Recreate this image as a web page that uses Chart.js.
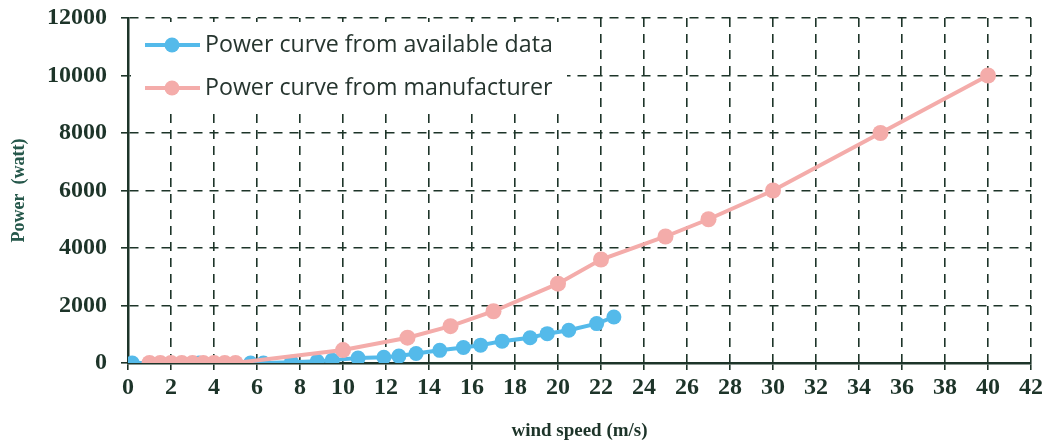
<!DOCTYPE html>
<html>
<head>
<meta charset="utf-8">
<script src="https://cdn.jsdelivr.net/npm/chart.js@4"></script>
<style>
  html, body { margin: 0; padding: 0; background: #fff; }
  #wrap { width: 1053px; height: 444px; position: relative; }
</style>
</head>
<body>
<div id="wrap"><canvas id="power-chart"></canvas></div>
<script>
// wind speed (m/s) and power (watt)
const dataSpeed = [0.2, 3.3, 5.7, 6.3, 7.6, 8.8, 9.5, 10.7, 11.9, 12.6, 13.4, 14.5, 15.6, 16.4, 17.4, 18.7, 19.5, 20.5, 21.8, 22.6];
const dataPower = [0, 0, 0, 0, 30, 60, 100, 170, 200, 240, 330, 440, 540, 620, 760, 880, 1020, 1140, 1370, 1600];

const makerSpeed = [1, 1.5, 2, 2.5, 3, 3.5, 4, 4.5, 5, 10, 13, 15, 17, 20, 22, 25, 27, 30, 35, 40];
const makerPower = [0, 0, 0, 0, 0, 0, 0, 0, 0, 450, 880, 1280, 1800, 2760, 3600, 4400, 5000, 6000, 8000, 10000];

const seriesNames = ['Power curve from available data', 'Power curve from manufacturer'];
const xTicks = { min: 0, max: 42, step: 2 };
const yTicks = { min: 0, max: 12000, step: 2000 };

const blue = 'rgb(84, 186, 234)';
const pink = 'rgb(244, 172, 170)';
const ink = '#1d3429';

const toPoints = (xs, ys) => xs.map((x, i) => ({ x: x, y: ys[i] }));

// legend drawn inside the plot on a white box, line + marker like the original
const lineLegend = {
  id: 'lineLegend',
  afterDraw(chart) {
    const ctx = chart.ctx;
    const left = chart.chartArea.left;
    const top = chart.chartArea.top;
    ctx.save();
    ctx.fillStyle = '#fff';
    ctx.fillRect(left + 3, top + 4, 436, 86);
    const rows = [
      { name: seriesNames[0], color: blue, y: top + 27 },
      { name: seriesNames[1], color: pink, y: top + 70 }
    ];
    rows.forEach(r => {
      ctx.strokeStyle = r.color;
      ctx.lineWidth = 4;
      ctx.beginPath();
      ctx.moveTo(left + 17, r.y);
      ctx.lineTo(left + 72, r.y);
      ctx.stroke();
      ctx.fillStyle = r.color;
      ctx.beginPath();
      ctx.arc(left + 44, r.y, 7.5, 0, Math.PI * 2);
      ctx.fill();
      ctx.fillStyle = '#26352f';
      ctx.font = '23.2px "Open Sans"';
      ctx.textBaseline = 'middle';
      ctx.fillText(r.name, left + 77, r.y);
    });
    ctx.restore();
  }
};

const config = {
  type: 'line',
  data: {
    datasets: [{
      label: seriesNames[0],
      data: toPoints(dataSpeed, dataPower),
      borderColor: blue,
      backgroundColor: blue,
      borderWidth: 4,
      pointRadius: 7.5,
      pointHoverRadius: 7.5,
      pointBorderWidth: 0,
      order: 1
    }, {
      label: seriesNames[1],
      data: toPoints(makerSpeed, makerPower),
      borderColor: pink,
      backgroundColor: pink,
      borderWidth: 4,
      pointRadius: 8,
      pointHoverRadius: 8,
      pointBorderWidth: 0,
      order: 0
    }]
  },
  options: {
    responsive: true,
    maintainAspectRatio: false,
    animation: false,
    layout: { padding: { left: 0, top: 0, right: 22, bottom: 0 } },
    plugins: {
      legend: { display: false },
      tooltip: { enabled: false }
    },
    scales: {
      x: {
        type: 'linear',
        min: xTicks.min,
        max: xTicks.max,
        afterFit: s => { s.height = 81; },
        ticks: {
          stepSize: xTicks.step,
          padding: 3,
          color: ink,
          callback: v => String(v),
          font: { family: '"Liberation Serif"', size: 24, weight: 'bold' }
        },
        grid: { color: ink, lineWidth: 1.6, tickLength: 7 },
        border: { color: ink, width: 2.5, dash: [9, 7] },
        title: {
          display: true,
          text: 'wind speed (m/s)',
          color: ink,
          font: { family: '"Liberation Serif"', size: 19, weight: 'bold' },
          padding: { top: 0, bottom: 2 }
        }
      },
      y: {
        min: yTicks.min,
        max: yTicks.max,
        afterFit: s => { s.width = 128; s.paddingTop = 18; },
        ticks: {
          stepSize: yTicks.step,
          padding: 14,
          color: ink,
          callback: v => String(v),
          font: { family: '"Liberation Serif"', size: 24, weight: 'bold' }
        },
        grid: { color: ink, lineWidth: 1.6, tickLength: 7 },
        border: { color: ink, width: 2.5, dash: [9, 7] },
        title: {
          display: true,
          text: 'Power  (watt)',
          color: '#25574a',
          font: { family: '"Liberation Serif"', size: 18, weight: 'bold' },
          padding: { top: 9, bottom: 0 }
        }
      }
    }
  },
  plugins: [lineLegend]
};

const powerChart = new Chart(document.getElementById('power-chart'), config);
</script>
</body>
</html>
